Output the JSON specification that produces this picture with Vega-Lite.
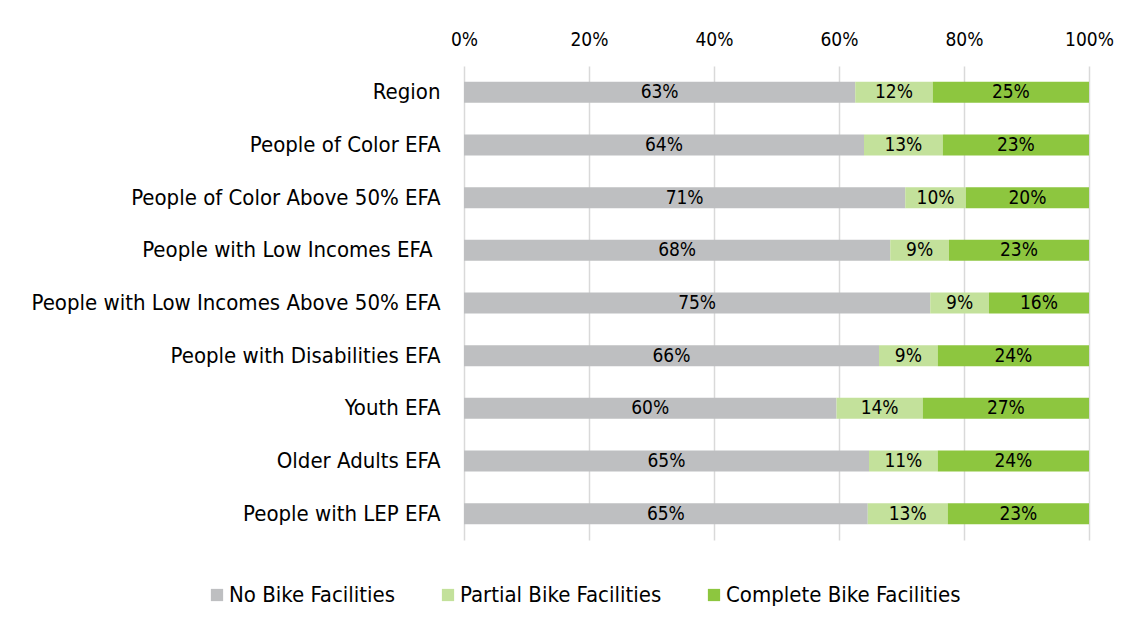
{
  "$schema": "https://vega.github.io/schema/vega-lite/v6.json",
  "width": 625,
  "height": 474,
  "autosize": "none",
  "padding": {"left": 464, "top": 66, "right": 43, "bottom": 89},
  "background": "white",
  "data": {
    "values": [
      {"group": "Region", "cat": "No Bike Facilities", "order": 1, "value": 62.6, "label": "63%"},
      {"group": "Region", "cat": "Partial Bike Facilities", "order": 2, "value": 12.4, "label": "12%"},
      {"group": "Region", "cat": "Complete Bike Facilities", "order": 3, "value": 25.0, "label": "25%"},
      {"group": "People of Color EFA", "cat": "No Bike Facilities", "order": 1, "value": 64.0, "label": "64%"},
      {"group": "People of Color EFA", "cat": "Partial Bike Facilities", "order": 2, "value": 12.6, "label": "13%"},
      {"group": "People of Color EFA", "cat": "Complete Bike Facilities", "order": 3, "value": 23.4, "label": "23%"},
      {"group": "People of Color Above 50% EFA", "cat": "No Bike Facilities", "order": 1, "value": 70.6, "label": "71%"},
      {"group": "People of Color Above 50% EFA", "cat": "Partial Bike Facilities", "order": 2, "value": 9.7, "label": "10%"},
      {"group": "People of Color Above 50% EFA", "cat": "Complete Bike Facilities", "order": 3, "value": 19.7, "label": "20%"},
      {"group": "People with Low Incomes EFA ", "cat": "No Bike Facilities", "order": 1, "value": 68.2, "label": "68%"},
      {"group": "People with Low Incomes EFA ", "cat": "Partial Bike Facilities", "order": 2, "value": 9.4, "label": "9%"},
      {"group": "People with Low Incomes EFA ", "cat": "Complete Bike Facilities", "order": 3, "value": 22.4, "label": "23%"},
      {"group": "People with Low Incomes Above 50% EFA", "cat": "No Bike Facilities", "order": 1, "value": 74.6, "label": "75%"},
      {"group": "People with Low Incomes Above 50% EFA", "cat": "Partial Bike Facilities", "order": 2, "value": 9.4, "label": "9%"},
      {"group": "People with Low Incomes Above 50% EFA", "cat": "Complete Bike Facilities", "order": 3, "value": 16.0, "label": "16%"},
      {"group": "People with Disabilities EFA", "cat": "No Bike Facilities", "order": 1, "value": 66.4, "label": "66%"},
      {"group": "People with Disabilities EFA", "cat": "Partial Bike Facilities", "order": 2, "value": 9.4, "label": "9%"},
      {"group": "People with Disabilities EFA", "cat": "Complete Bike Facilities", "order": 3, "value": 24.2, "label": "24%"},
      {"group": "Youth EFA", "cat": "No Bike Facilities", "order": 1, "value": 59.6, "label": "60%"},
      {"group": "Youth EFA", "cat": "Partial Bike Facilities", "order": 2, "value": 13.8, "label": "14%"},
      {"group": "Youth EFA", "cat": "Complete Bike Facilities", "order": 3, "value": 26.6, "label": "27%"},
      {"group": "Older Adults EFA", "cat": "No Bike Facilities", "order": 1, "value": 64.8, "label": "65%"},
      {"group": "Older Adults EFA", "cat": "Partial Bike Facilities", "order": 2, "value": 11.0, "label": "11%"},
      {"group": "Older Adults EFA", "cat": "Complete Bike Facilities", "order": 3, "value": 24.2, "label": "24%"},
      {"group": "People with LEP EFA", "cat": "No Bike Facilities", "order": 1, "value": 64.6, "label": "65%"},
      {"group": "People with LEP EFA", "cat": "Partial Bike Facilities", "order": 2, "value": 12.8, "label": "13%"},
      {"group": "People with LEP EFA", "cat": "Complete Bike Facilities", "order": 3, "value": 22.6, "label": "23%"}
    ]
  },
  "encoding": {
    "y": {
      "field": "group",
      "type": "nominal",
      "sort": null,
      "title": null,
      "scale": {"paddingInner": 0.6, "paddingOuter": 0.3},
      "axis": {
        "domain": false,
        "ticks": false,
        "labelFont": "DejaVu Sans Condensed, Liberation Sans",
        "labelFontSize": 22,
        "labelColor": "#000000",
        "labelPadding": {"condition": {"test": "datum.value == 'People with Low Incomes EFA '", "value": 32}, "value": 24},
        "labelLimit": 600
      }
    },
    "x": {
      "field": "value",
      "type": "quantitative",
      "stack": "normalize",
      "title": null,
      "scale": {"domain": [0, 1], "nice": false},
      "axis": {
        "orient": "top",
        "format": ".0%",
        "values": [0, 0.2, 0.4, 0.6, 0.8, 1],
        "domain": false,
        "ticks": false,
        "grid": true,
        "gridColor": "#d9d9d9",
        "gridWidth": 1.5,
        "labelFont": "DejaVu Sans Condensed, Liberation Sans",
        "labelFontSize": 19,
        "labelColor": "#000000",
        "labelPadding": 17,
        "labelFlush": false
      }
    },
    "order": {"field": "order", "type": "quantitative"}
  },
  "layer": [
    {
      "mark": {"type": "bar"},
      "encoding": {
        "color": {
          "field": "cat",
          "type": "nominal",
          "sort": ["No Bike Facilities", "Partial Bike Facilities", "Complete Bike Facilities"],
          "scale": {
            "domain": ["No Bike Facilities", "Partial Bike Facilities", "Complete Bike Facilities"],
            "range": ["#BEBFC1", "#C3E19B", "#8DC63F"]
          },
          "legend": {
            "title": null,
            "orient": "none",
            "direction": "horizontal",
            "legendX": -258,
            "legendY": 518,
            "symbolType": "square",
            "symbolSize": 150,
            "symbolStrokeWidth": 0,
            "labelFont": "DejaVu Sans Condensed, Liberation Sans",
            "labelFontSize": 22,
            "labelColor": "#000000",
            "labelOffset": 1,
            "columnPadding": 41,
            "labelLimit": 400
          }
        }
      }
    },
    {
      "mark": {"type": "text", "font": "DejaVu Sans Condensed, Liberation Sans", "fontSize": 19, "color": "#000000", "baseline": "middle"},
      "encoding": {
        "x": {"field": "value", "type": "quantitative", "stack": "normalize", "bandPosition": 0.5},
        "text": {"field": "label"}
      }
    }
  ],
  "config": {
    "view": {"stroke": null}
  }
}
